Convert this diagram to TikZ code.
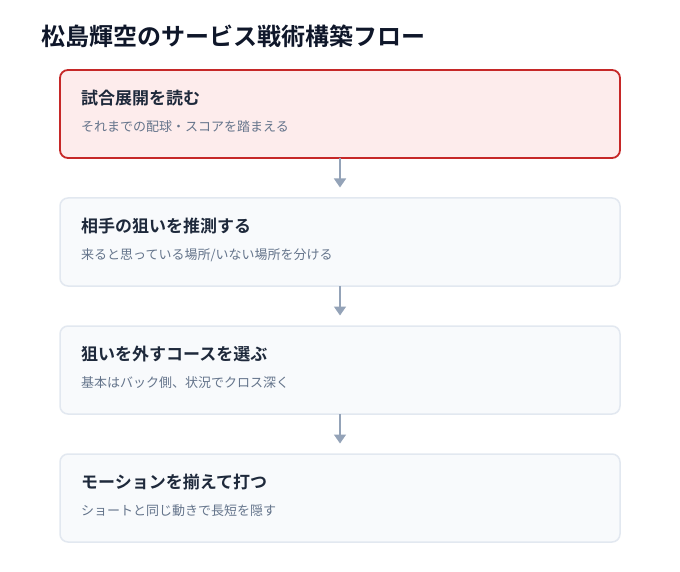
\documentclass[tikz,border=0pt]{standalone}
\usepackage{fontspec}
\newfontfamily\jp{Noto Sans CJK JP}
\newfontfamily\jpb{Noto Sans CJK JP Bold}
\usetikzlibrary{arrows.meta}
\definecolor{titlec}{HTML}{0F172A}
\definecolor{headc}{HTML}{1E293B}
\definecolor{subc}{HTML}{64748B}
\definecolor{boxfill}{HTML}{F8FAFC}
\definecolor{boxline}{HTML}{E2E8F0}
\definecolor{hifill}{HTML}{FDECEC}
\definecolor{hiline}{HTML}{C62828}
\definecolor{arrc}{HTML}{94A3B8}
\tikzset{
  card/.style={draw=boxline, line width=1.5pt, fill=boxfill, rounded corners=8pt,
    minimum width=560pt, minimum height=88pt, inner sep=0pt, outer sep=0pt, anchor=north west},
  hicard/.style={card, draw=hiline, fill=hifill, line width=1.8pt},
  head/.style={anchor=west, inner sep=0pt, font=\jpb\fontsize{17}{20}\selectfont, text=headc},
  sub/.style={anchor=west, inner sep=0pt, font=\jp\fontsize{13}{15}\selectfont, text=subc},
  flow/.style={draw=arrc, line width=1.5pt, -{Triangle[length=9pt,width=12pt]}, shorten >=1.5pt},
}
\begin{document}
\begin{tikzpicture}[x=1pt,y=-1pt]
\useasboundingbox[fill=white] (0,0) rectangle (680,572);
\node[anchor=west, inner sep=0pt, font=\jpb\fontsize{24}{27}\selectfont, text=titlec] (title) at (41,36) {松島輝空のサービス戦術構築フロー};

\node[hicard] (b1) at (60,70) {};
\node[card] (b2) at (60,198) {};
\node[card] (b3) at (60,326) {};
\node[card] (b4) at (60,454) {};

\node[head] (h1) at (81,98) {試合展開を読む};
\node[sub] (s1) at (81,127) {それまでの配球・スコアを踏まえる};
\node[head] (h2) at (81,226) {相手の狙いを推測する};
\node[sub] (s2) at (81,255) {来ると思っている場所/いない場所を分ける};
\node[head] (h3) at (81,354) {狙いを外すコースを選ぶ};
\node[sub] (s3) at (81,383) {基本はバック側、状況でクロス深く};
\node[head] (h4) at (81,482) {モーションを揃えて打つ};
\node[sub] (s4) at (81,511) {ショートと同じ動きで長短を隠す};

\coordinate (e1) at (340,189);
\coordinate (e2) at (340,317);
\coordinate (e3) at (340,445);
\draw[flow] (b1.south) -- (e1);
\draw[flow] (b2.south) -- (e2);
\draw[flow] (b3.south) -- (e3);
\end{tikzpicture}
\end{document}
